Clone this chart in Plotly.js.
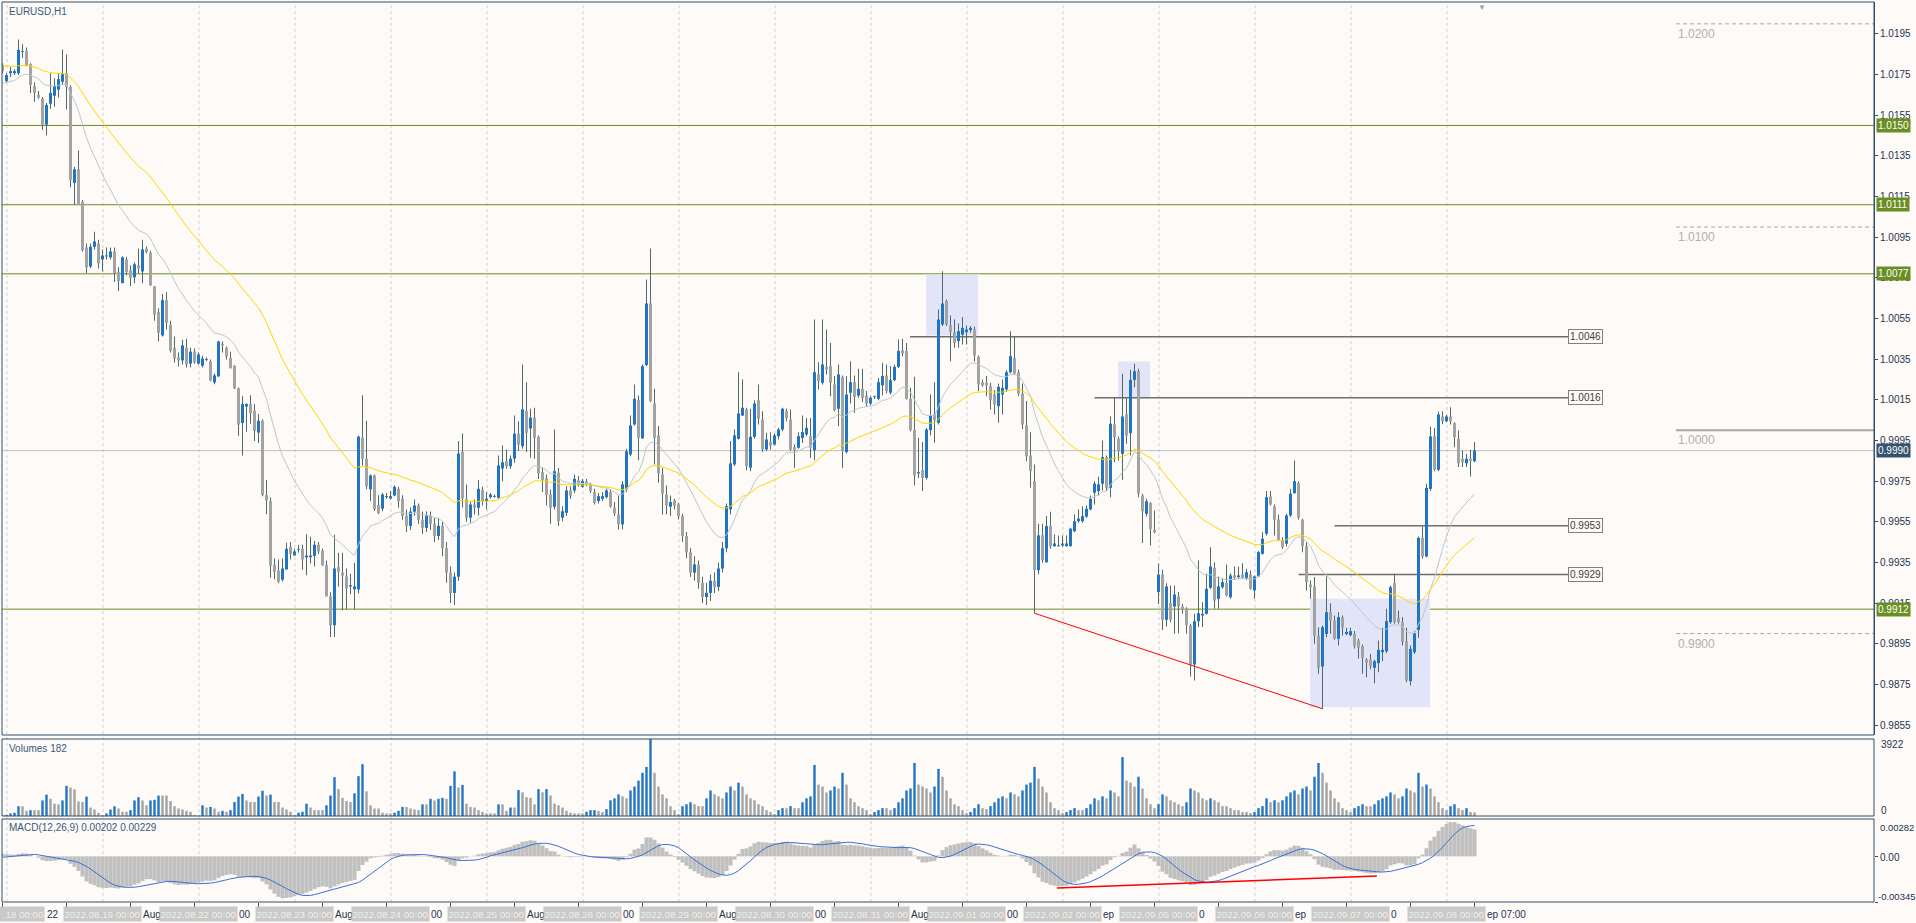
<!DOCTYPE html>
<html><head><meta charset="utf-8">
<script src="https://cdn.plot.ly/plotly-3.0.1.min.js"></script>
<style>html,body{margin:0;padding:0;background:#fdfaf8;overflow:hidden}#chart{width:1916px;height:923px}</style>
</head><body><div id="chart"></div>
<script>
// ---------- DATA (EURUSD H1, bar index 0 = 2022.08.18 00:00) ----------
const FIRST_BAR = -1;
const OPEN = [
1.01796,1.01718,1.01757,1.01757,1.01757,1.01861,1.01865,1.01802,1.01693,1.01650,
1.01631,1.01504,1.01607,1.01646,1.01676,1.01715,1.01757,1.01689,1.01217,1.01284,
1.01124,1.00899,1.00806,1.00903,1.00919,1.00841,1.00856,1.00851,1.00880,1.00779,
1.00724,1.00841,1.00788,1.00753,1.00812,1.00782,1.00894,1.00874,1.00708,1.00582,
1.00467,1.00640,1.00519,1.00406,1.00359,1.00344,1.00406,1.00328,1.00387,1.00328,
1.00318,1.00346,1.00340,1.00236,1.00266,1.00426,1.00406,1.00357,1.00318,1.00207,
1.00036,1.00117,1.00129,1.00096,0.99989,1.00047,0.99681,0.99651,0.99339,0.99310,
0.99265,0.99316,0.99427,0.99384,0.99413,0.99417,0.99375,0.99376,0.99382,0.99437,
0.99408,0.99337,0.99183,0.99041,0.99326,0.99300,0.99281,0.99232,0.99218,0.99217,
0.99963,0.99860,0.99710,0.99778,0.99632,0.99614,0.99671,0.99665,0.99679,0.99712,
0.99663,0.99580,0.99530,0.99600,0.99630,0.99560,0.99520,0.99580,0.99540,0.99480,
0.99530,0.99420,0.99300,0.99200,0.99280,0.99894,0.99660,0.99570,0.99635,0.99619,
0.99706,0.99652,0.99671,0.99673,0.99668,0.99812,0.99848,0.99824,0.99861,0.99984,
0.99922,1.00094,1.00009,1.00062,0.99968,0.99794,0.99763,0.99684,0.99624,0.99791,
0.99570,0.99594,0.99704,0.99704,0.99753,0.99722,0.99750,0.99734,0.99696,0.99652,
0.99663,0.99671,0.99696,0.99619,0.99586,0.99537,0.99709,0.99881,1.00029,1.00148,
0.99960,1.00321,1.00624,1.00132,0.99975,0.99783,0.99684,0.99624,0.99655,0.99635,
0.99578,0.99480,0.99400,0.99300,0.99340,0.99250,0.99180,0.99200,0.99260,0.99230,
0.99320,0.99420,0.99611,0.99832,0.99958,1.00073,1.00103,0.99816,0.99968,1.00148,
1.00053,0.99906,0.99942,0.99930,0.99971,1.00004,1.00094,1.00053,0.99917,0.99914,
0.99963,0.99980,0.99971,0.99902,1.00275,1.00234,1.00312,1.00316,1.00226,1.00106,
1.00263,0.99893,1.00185,1.00237,1.00171,1.00204,1.00171,1.00132,1.00163,1.00155,
1.00221,1.00270,1.00185,1.00247,1.00312,1.00394,1.00390,1.00155,1.00001,0.99788,
0.99804,0.99766,1.00001,1.00078,1.00037,1.00521,1.00636,1.00517,1.00483,1.00439,
1.00471,1.00483,1.00493,1.00496,1.00362,1.00237,1.00234,1.00217,1.00176,1.00119,
1.00176,1.00201,1.00286,1.00355,1.00286,1.00181,1.00024,0.99876,0.99750,0.99312,
0.99483,0.99351,0.99529,0.99430,0.99430,0.99434,0.99430,0.99430,0.99504,0.99553,
0.99553,0.99575,0.99611,0.99693,0.99701,0.99737,0.99868,0.99717,1.00029,0.99958,
0.99884,1.00078,0.99986,1.00248,1.00291,0.99679,0.99589,0.99642,0.99510,0.99204,
0.99291,0.99068,0.99150,0.99133,0.99182,0.99133,0.99122,0.99040,0.98848,0.99061,
0.99089,0.99097,0.99225,0.99323,0.99171,0.99228,0.99248,0.99179,0.99286,0.99278,
0.99291,0.99274,0.99291,0.99212,0.99281,0.99392,0.99491,0.99674,0.99625,0.99560,
0.99461,0.99442,0.99581,0.99691,0.99740,0.99560,0.99430,0.99241,0.99232,0.98990,
0.98838,0.98998,0.99105,0.99064,0.98974,0.99081,0.98998,0.98992,0.98998,0.98966,
0.98938,0.98872,0.98872,0.98831,0.98854,0.98908,0.98913,0.99056,0.99248,0.99077,
0.99056,0.98962,0.98766,0.98908,0.99018,0.99471,0.99379,0.99712,0.99970,0.99806,
1.00068,1.00045,1.00068,1.00035,0.99958,0.99860,0.99838,0.99860,0.99848];
const HIGH = [
1.01806,1.01757,1.01787,1.01777,1.01923,1.01900,1.01884,1.01806,1.01713,1.01670,
1.01640,1.01611,1.01757,1.01732,1.01757,1.01874,1.01849,1.01699,1.01295,1.01377,
1.01133,1.00919,1.00919,1.00977,1.00938,1.00890,1.00899,1.00899,1.00899,1.00802,
1.00856,1.00854,1.00812,1.00827,1.00894,1.00938,1.00905,1.00884,1.00710,1.00601,
1.00671,1.00679,1.00539,1.00461,1.00383,1.00445,1.00451,1.00406,1.00402,1.00383,
1.00367,1.00359,1.00348,1.00279,1.00441,1.00437,1.00412,1.00387,1.00320,1.00211,
1.00168,1.00133,1.00172,1.00129,1.00080,1.00055,0.99755,0.99671,0.99369,0.99365,
0.99369,0.99447,0.99451,0.99417,0.99437,0.99437,0.99489,0.99476,0.99456,0.99451,
0.99417,0.99359,0.99203,0.99486,0.99398,0.99398,0.99320,0.99294,0.99349,0.99973,
1.00172,1.00047,0.99782,0.99782,0.99681,0.99692,0.99692,0.99701,0.99729,0.99722,
0.99680,0.99610,0.99620,0.99660,0.99640,0.99600,0.99600,0.99600,0.99570,0.99570,
0.99550,0.99450,0.99330,0.99300,0.99947,0.99984,0.99734,0.99650,0.99660,0.99755,
0.99722,0.99696,0.99692,0.99684,0.99876,0.99925,0.99906,0.99876,1.00073,1.00045,
1.00324,1.00237,1.00106,1.00111,0.99975,0.99815,0.99783,0.99709,1.00004,0.99815,
0.99627,0.99725,0.99725,0.99783,0.99775,0.99761,0.99761,0.99742,0.99712,0.99692,
0.99696,0.99712,0.99709,0.99647,0.99679,0.99750,0.99909,1.00073,1.00226,1.00171,
1.00324,1.00742,1.00895,1.00204,1.00021,0.99815,0.99729,0.99679,0.99663,0.99643,
0.99590,0.99500,0.99420,0.99380,0.99360,0.99280,0.99250,0.99290,0.99300,0.99350,
0.99450,0.99640,0.99947,1.00004,1.00286,1.00250,1.00111,1.00106,1.00148,1.00226,
1.00094,0.99988,0.99991,0.99984,1.00012,1.00111,1.00106,1.00103,0.99930,0.99991,
1.00073,1.00061,1.00061,1.00545,1.00335,1.00545,1.00496,1.00430,1.00267,1.00324,
1.00270,1.00267,1.00340,1.00270,1.00303,1.00303,1.00193,1.00168,1.00171,1.00258,
1.00332,1.00324,1.00316,1.00324,1.00447,1.00450,1.00430,1.00209,1.00263,0.99963,
0.99942,1.00012,1.00176,1.00237,1.00595,1.00783,1.00644,1.00565,1.00545,1.00526,
1.00558,1.00516,1.00513,1.00509,1.00368,1.00250,1.00267,1.00234,1.00198,1.00230,
1.00250,1.00296,1.00488,1.00463,1.00299,1.00230,1.00144,0.99991,0.99832,0.99540,
0.99540,0.99578,0.99599,0.99488,0.99483,0.99483,0.99483,0.99521,0.99586,0.99611,
0.99627,0.99630,0.99679,0.99750,0.99771,0.99950,0.99876,1.00068,1.00160,0.99970,
1.00278,1.00160,1.00298,1.00327,1.00303,0.99688,0.99663,0.99646,0.99605,0.99343,
0.99314,0.99248,0.99237,0.99237,0.99204,0.99146,0.99130,0.99048,0.99097,0.99360,
0.99154,0.99294,0.99425,0.99351,0.99281,0.99269,0.99340,0.99297,0.99330,0.99330,
0.99346,0.99319,0.99310,0.99286,0.99406,0.99499,0.99701,0.99701,0.99635,0.99586,
0.99474,0.99589,0.99712,0.99852,0.99750,0.99565,0.99450,0.99261,0.99278,0.99031,
0.99040,0.99281,0.99149,0.99089,0.99105,0.99089,0.99028,0.99028,0.99012,0.98976,
0.98946,0.98880,0.98900,0.98871,0.98966,0.99028,0.99122,0.99237,0.99294,0.99113,
0.99081,0.99028,0.98941,0.99012,0.99478,0.99527,0.99737,1.00019,1.00012,1.00093,
1.00094,1.00075,1.00114,1.00040,0.99999,0.99901,0.99884,0.99904,0.99942];
const LOW = [
1.01757,1.01709,1.01738,1.01748,1.01748,1.01832,1.01791,1.01660,1.01617,1.01631,
1.01479,1.01451,1.01582,1.01592,1.01638,1.01699,1.01578,1.01196,1.01108,1.01108,
1.00880,1.00773,1.00798,1.00890,1.00796,1.00782,1.00841,1.00841,1.00730,1.00685,
1.00724,1.00763,1.00710,1.00724,1.00773,1.00724,1.00870,1.00710,1.00539,1.00437,
1.00461,1.00496,1.00383,1.00334,1.00314,1.00324,1.00309,1.00309,1.00328,1.00324,
1.00309,1.00340,1.00242,1.00227,1.00262,1.00383,1.00348,1.00305,1.00203,0.99973,
0.99876,0.99993,1.00032,0.99948,0.99938,0.99675,0.99587,0.99275,0.99267,0.99248,
0.99256,0.99314,0.99365,0.99384,0.99398,0.99314,0.99287,0.99345,0.99330,0.99392,
0.99335,0.99183,0.98983,0.98983,0.99232,0.99115,0.99119,0.99193,0.99119,0.99197,
0.99827,0.99710,0.99651,0.99603,0.99587,0.99602,0.99663,0.99660,0.99676,0.99619,
0.99560,0.99500,0.99510,0.99580,0.99540,0.99490,0.99500,0.99510,0.99450,0.99460,
0.99380,0.99250,0.99150,0.99140,0.99260,0.99620,0.99550,0.99545,0.99586,0.99581,
0.99630,0.99611,0.99663,0.99668,0.99663,0.99750,0.99811,0.99811,0.99840,0.99898,
0.99909,0.99893,0.99865,0.99860,0.99761,0.99696,0.99630,0.99540,0.99611,0.99529,
0.99553,0.99578,0.99663,0.99692,0.99722,0.99717,0.99725,0.99692,0.99635,0.99640,
0.99652,0.99665,0.99619,0.99578,0.99512,0.99512,0.99696,0.99873,1.00024,0.99853,
0.99958,1.00316,1.00139,0.99832,0.99742,0.99586,0.99586,0.99578,0.99611,0.99561,
0.99450,0.99370,0.99280,0.99260,0.99220,0.99150,0.99140,0.99160,0.99200,0.99210,
0.99300,0.99400,0.99586,0.99824,0.99955,1.00070,0.99804,0.99799,0.99958,1.00029,
0.99893,0.99898,0.99906,0.99925,0.99955,0.99996,1.00045,0.99898,0.99816,0.99909,
0.99938,0.99971,0.99865,0.99853,1.00201,1.00226,1.00275,1.00168,1.00094,1.00020,
0.99816,0.99886,1.00132,1.00086,1.00160,1.00139,1.00119,1.00122,1.00155,1.00148,
1.00171,1.00181,1.00176,1.00242,1.00307,1.00365,1.00152,0.99996,0.99729,0.99766,
0.99701,0.99758,0.99975,0.99939,1.00029,1.00513,1.00513,1.00340,1.00406,1.00406,
1.00422,1.00422,1.00480,1.00340,1.00193,1.00214,1.00168,1.00103,1.00078,1.00037,
1.00078,1.00188,1.00280,1.00275,1.00168,1.00007,0.99848,0.99717,0.99100,0.99290,
0.99348,0.99348,0.99417,0.99427,0.99427,0.99427,0.99427,0.99427,0.99499,0.99545,
0.99545,0.99570,0.99607,0.99635,0.99679,0.99704,0.99701,0.99671,0.99843,0.99852,
0.99756,0.99934,0.99876,1.00212,0.99671,0.99445,0.99576,0.99433,0.99494,0.99146,
0.99018,0.99035,0.99056,0.98999,0.99002,0.99097,0.98999,0.98789,0.98769,0.99032,
0.99032,0.99094,0.99220,0.99122,0.99122,0.99220,0.99182,0.99171,0.99264,0.99269,
0.99269,0.99264,0.99215,0.99171,0.99278,0.99389,0.99483,0.99630,0.99483,0.99458,
0.99417,0.99428,0.99573,0.99688,0.99560,0.99400,0.99212,0.99171,0.98950,0.98802,
0.98630,0.98982,0.98999,0.98969,0.98941,0.98990,0.98992,0.98987,0.98926,0.98877,
0.98802,0.98785,0.98825,0.98756,0.98810,0.98864,0.98903,0.99048,0.99048,0.99048,
0.98941,0.98761,0.98744,0.98900,0.98979,0.99368,0.99376,0.99701,0.99798,0.99798,
1.00030,1.00040,1.00029,0.99917,0.99819,0.99819,0.99819,0.99773,0.99843];
const CLOSE = [
1.01767,1.01748,1.01767,1.01767,1.01872,1.01865,1.01796,1.01699,1.01660,1.01637,
1.01504,1.01601,1.01660,1.01693,1.01728,1.01753,1.01689,1.01231,1.01284,1.01108,
1.00886,1.00802,1.00903,1.00929,1.00821,1.00860,1.00860,1.00880,1.00773,1.00734,
1.00851,1.00779,1.00749,1.00817,1.00796,1.00890,1.00878,1.00714,1.00568,1.00480,
1.00640,1.00529,1.00392,1.00353,1.00344,1.00418,1.00324,1.00387,1.00334,1.00373,
1.00353,1.00350,1.00246,1.00270,1.00437,1.00418,1.00363,1.00305,1.00207,1.00028,
1.00129,1.00129,1.00084,0.99997,1.00047,0.99681,0.99655,0.99334,0.99304,0.99256,
0.99320,0.99417,0.99392,0.99404,0.99417,0.99365,0.99384,0.99384,0.99437,0.99404,
0.99335,0.99183,0.99041,0.99320,0.99304,0.99285,0.99222,0.99238,0.99232,0.99969,
0.99860,0.99724,0.99778,0.99612,0.99593,0.99684,0.99676,0.99676,0.99722,0.99652,
0.99580,0.99530,0.99600,0.99630,0.99560,0.99520,0.99580,0.99540,0.99480,0.99530,
0.99420,0.99300,0.99200,0.99280,0.99886,0.99665,0.99570,0.99635,0.99619,0.99712,
0.99652,0.99663,0.99684,0.99676,0.99827,0.99843,0.99824,0.99860,0.99984,0.99930,
1.00103,0.99988,1.00062,0.99963,0.99788,0.99755,0.99681,0.99619,0.99799,0.99553,
0.99602,0.99704,0.99679,0.99761,0.99729,0.99750,0.99734,0.99701,0.99643,0.99676,
0.99676,0.99704,0.99624,0.99591,0.99537,0.99734,0.99897,1.00024,1.00155,0.99963,
1.00316,1.00624,1.00144,0.99963,0.99788,0.99689,0.99630,0.99647,0.99630,0.99578,
0.99480,0.99400,0.99300,0.99340,0.99250,0.99180,0.99200,0.99260,0.99230,0.99320,
0.99420,0.99627,0.99837,0.99975,1.00083,1.00111,0.99824,0.99968,1.00132,1.00057,
0.99906,0.99955,0.99925,0.99975,1.00004,1.00106,1.00061,0.99906,0.99902,0.99971,
0.99991,1.00012,0.99914,1.00286,1.00242,1.00324,1.00299,1.00234,1.00099,1.00275,
0.99898,1.00176,1.00237,1.00165,1.00204,1.00160,1.00132,1.00160,1.00165,1.00237,
1.00267,1.00193,1.00247,1.00312,1.00390,1.00378,1.00155,1.00001,0.99778,0.99794,
0.99766,1.00004,1.00073,1.00050,1.00545,1.00624,1.00521,1.00483,1.00430,1.00488,
1.00504,1.00496,1.00504,1.00368,1.00226,1.00221,1.00221,1.00148,1.00127,1.00214,
1.00209,1.00286,1.00365,1.00280,1.00181,1.00029,0.99873,0.99799,0.99312,0.99483,
0.99361,0.99529,0.99430,0.99443,0.99434,0.99443,0.99443,0.99516,0.99553,0.99565,
0.99578,0.99614,0.99663,0.99738,0.99734,0.99868,0.99717,1.00032,0.99966,0.99897,
1.00068,0.99975,1.00248,1.00291,0.99688,0.99602,0.99651,0.99515,0.99499,0.99290,
0.99068,0.99232,0.99068,0.99192,0.99133,0.99117,0.99040,0.98848,0.99061,0.99100,
0.99097,0.99220,0.99330,0.99163,0.99232,0.99253,0.99187,0.99286,0.99274,0.99286,
0.99274,0.99302,0.99220,0.99281,0.99401,0.99466,0.99671,0.99635,0.99560,0.99461,
0.99425,0.99581,0.99688,0.99750,0.99570,0.99430,0.99253,0.99228,0.98990,0.98831,
0.99031,0.99105,0.99064,0.98974,0.99081,0.99031,0.99008,0.99012,0.98938,0.98930,
0.98880,0.98856,0.98839,0.98864,0.98920,0.98920,0.99061,0.99228,0.99056,0.99056,
0.98958,0.98769,0.98925,0.99002,0.99471,0.99379,0.99717,0.99970,0.99806,1.00078,
1.00045,1.00068,1.00045,0.99966,0.99838,0.99843,0.99860,0.99848,0.99901];
const VOLUME = [
50,60,130,165,495,495,264,297,297,297,
792,1089,875,627,594,792,1535,1452,1353,743,
710,990,429,330,165,50,132,330,495,380,
215,215,297,792,957,792,545,792,825,1040,
1040,1040,759,495,380,330,264,215,50,20,
545,430,462,380,215,264,215,297,710,990,
1122,792,710,710,990,1287,1040,1089,710,710,
430,330,215,50,165,215,627,430,297,297,
297,545,1040,1980,1370,924,760,710,1155,2030,
2640,1254,545,380,380,165,132,132,165,264,
462,462,380,330,297,594,594,875,792,875,
924,875,1535,2277,1452,1584,627,462,430,297,
215,132,132,132,594,594,264,430,430,1320,
1205,957,924,594,1370,1205,1370,1040,627,545,
430,264,165,132,132,132,215,297,300,250,
200,350,800,900,1100,1000,900,1300,1500,1800,
2200,2500,3922,2200,1500,1100,900,500,300,100,
500,600,700,600,500,500,900,1300,1100,1000,
900,1200,1500,1300,1700,1500,1100,900,800,600,
500,300,200,100,300,400,400,500,400,400,
700,900,1000,2600,1600,1500,1200,1300,1500,1400,
2200,1600,900,700,500,400,300,100,200,300,
400,400,300,400,700,900,1300,1400,2700,1600,
1500,1400,1200,1500,2400,2000,1300,900,600,500,
300,150,200,400,600,400,350,500,700,900,
1000,900,1200,1100,1000,1300,1600,1700,2500,1900,
1500,1200,700,400,300,150,200,300,400,300,
300,400,600,900,800,1000,900,1300,1200,1000,
3000,1800,1700,1500,2000,1400,900,600,400,600,
1100,1000,800,700,600,500,700,1400,1300,1200,
900,800,900,800,700,500,500,400,300,300,
200,200,150,200,400,500,900,700,800,700,
800,1000,1200,1300,1100,1400,1500,1300,2000,2700,
2200,1700,1300,900,700,400,300,200,400,500,
600,500,500,600,800,900,1000,1200,1100,900,
1000,1400,1300,1200,2200,1500,1600,1400,1000,700,
400,300,500,600,400,300,400,200,182];

// indicator start values
const EMA_FAST_START = 1.01707, EMA_SLOW_START = 1.01794;
const MACD_START = 0.0002, SIGNAL_START = -0.0001;

// axis scales / ticks
const PRICE_RANGE = [0.985009, 1.021074];
const PRICE_TICKS = [1.0195,1.0175,1.0155,1.0135,1.0115,1.0095,1.0075,1.0055,1.0035,1.0015,0.9995,0.9975,0.9955,0.9935,0.9915,0.9895,0.9875,0.9855];
const VOL_MAX = 3922;
const MACD_RANGE = [-0.00345, 0.00282];
const TICK_BARS = [-1,15,31,47,63,79,95,111,127,143,159,175,191,207,223,239,255,271,287,303,319,335,351,367];
const BARS_PER_DAY = 24;
const DAY_LABELS = ['.18 00:00','2022.08.19 00:00','2022.08.22 00:00','2022.08.23 00:00','2022.08.24 00:00','2022.08.25 00:00','2022.08.26 00:00','2022.08.29 00:00','2022.08.30 00:00','2022.08.31 00:00','2022.09.01 00:00','2022.09.02 00:00','2022.09.05 00:00','2022.09.06 00:00','2022.09.07 00:00','2022.09.08 00:00'];
// parts of the time-scale labels left visible between the date boxes
const GAP_TEXT = ['22','Aug','00','Aug','00','Aug','00','Aug','00','Aug','00','ep','0','ep','0','ep 07:00'];

// chart objects
const GREEN_LEVELS = [1.0150, 1.0111, 1.0077, 0.9912];
const BID = 0.9990;
const ROUND_DASHED = [1.0200, 1.0100, 0.9900];
const ROUND_SOLID = 1.0000;
const ROUND_FROM = 417.4;
const SEG_LEVELS = [1.0046, 1.0016, 0.9953, 0.9929];
const SEG_FROM = [225.9, 272.0, 332.0, 323.0];
const SEG_TO = 390.4;
const RECT_X0 = [229.9, 277.9, 325.9], RECT_X1 = [242.9, 285.9, 355.9];
const RECT_Y0 = [1.00467, 1.00160, 0.98638], RECT_Y1 = [1.00767, 1.00339, 0.99171];
const TREND_X = [257, 329], TREND_Y = [0.99100, 0.98630];
const MACD_TREND_X = [262.6, 342.6], MACD_TREND_Y = [-0.00239, -0.00149];

// ---------- BUILD ----------
const X = CLOSE.map((_, k) => FIRST_BAR + k);
const BLUE = '#2174c4', GREY = '#a3a3a3', WICK = '#4f6a6a', BG = '#fdfaf8', FRAME = '#33506b';

function ema(src, period, start) {
  const a = 2 / (period + 1); let e = start;
  return src.map((v, k) => (k === 0 ? e : (e = e + a * (v - e))));
}
const emaFast = ema(CLOSE, 20, EMA_FAST_START);
const emaSlow = ema(CLOSE, 50, EMA_SLOW_START);
const e12 = ema(CLOSE, 12, CLOSE[0] + MACD_START);
const e26 = ema(CLOSE, 26, CLOSE[0]);
const macd = e12.map((v, k) => v - e26[k]);
const hist = Array(8).fill(SIGNAL_START).concat(macd);
const signal = macd.map((_, k) => { let s = 0; for (let j = 0; j < 9; j++) s += hist[k + j]; return s / 9; });

const bodyBase = OPEN.map((o, k) => Math.min(o, CLOSE[k]));
const bodyLen = OPEN.map((o, k) => Math.max(Math.abs(CLOSE[k] - o), 0.00004));
const bodyCol = OPEN.map((o, k) => (CLOSE[k] >= o ? BLUE : GREY));
const volCol = VOLUME.map((v, k) => (k > 0 && v > VOLUME[k - 1] ? BLUE : GREY));

const L = 2, R = 1874, T = 2, B = 902;
const fy = py => (B - py) / (B - T);
const fx = px => (px - L) / (R - L);
const DOM_MAIN = [fy(735), 1], DOM_VOL = [fy(816), fy(739)], DOM_MACD = [0, fy(819)];

const traces = [
  {type:'bar', x:X, base:LOW, y:HIGH.map((h,k)=>h-LOW[k]), width:0.25, marker:{color:WICK, line:{width:0}}, yaxis:'y', hoverinfo:'skip'},
  {type:'bar', x:X, base:bodyBase, y:bodyLen, width:0.75, marker:{color:bodyCol, line:{width:0}}, yaxis:'y', hoverinfo:'skip'},
  {type:'scatter', mode:'lines', x:X, y:emaFast, line:{color:'#b7caca', width:1}, yaxis:'y', hoverinfo:'skip'},
  {type:'scatter', mode:'lines', x:X, y:emaSlow, line:{color:'#ffd700', width:1}, yaxis:'y', hoverinfo:'skip'},
  {type:'bar', x:X, y:VOLUME, width:0.6, marker:{color:volCol, line:{width:0}}, yaxis:'y2', hoverinfo:'skip'},
  {type:'bar', x:X, y:macd, width:1.0, marker:{color:'#c0c0c0', line:{width:0}}, yaxis:'y3', hoverinfo:'skip'},
  {type:'scatter', mode:'lines', x:X, y:signal, line:{color:'#3a6fd8', width:1}, yaxis:'y3', hoverinfo:'skip'}
];

const shapes = [];
for (let d = 0; d < DAY_LABELS.length; d++) {
  shapes.push({type:'line', xref:'x', yref:'paper', x0:d*BARS_PER_DAY+0.125, x1:d*BARS_PER_DAY+0.125, y0:0, y1:1, line:{color:'#cfcfcf', width:1, dash:'3px,3px'}, layer:'below'});
}
for (let k = 0; k < RECT_X0.length; k++) {
  shapes.push({type:'rect', xref:'x', yref:'y', x0:RECT_X0[k], x1:RECT_X1[k], y0:RECT_Y0[k], y1:RECT_Y1[k], fillcolor:'#e2e5f7', line:{width:0}, layer:'below'});
}
ROUND_DASHED.forEach(v => shapes.push({type:'line', xref:'x', yref:'y', x0:ROUND_FROM, x1:466.9, y0:v, y1:v, line:{color:'#a9a9a9', width:1, dash:'4px,3px'}, layer:'below'}));
shapes.push({type:'line', xref:'x', yref:'y', x0:ROUND_FROM, x1:466.9, y0:ROUND_SOLID, y1:ROUND_SOLID, line:{color:'#a6a6a6', width:2}, layer:'below'});
shapes.push({type:'line', xref:'paper', yref:'y', x0:0, x1:1, y0:BID, y1:BID, line:{color:'#c0c0c0', width:1}, layer:'below'});
GREEN_LEVELS.forEach(v => shapes.push({type:'line', xref:'paper', yref:'y', x0:0, x1:1, y0:v, y1:v, line:{color:'#6b8e23', width:1}, layer:'below'}));
SEG_LEVELS.forEach((v, k) => shapes.push({type:'line', xref:'x', yref:'y', x0:SEG_FROM[k], x1:SEG_TO, y0:v, y1:v, line:{color:'#6e6e6e', width:1.5}, layer:'below'}));
shapes.push({type:'line', xref:'x', yref:'y', x0:TREND_X[0], x1:TREND_X[1], y0:TREND_Y[0], y1:TREND_Y[1], line:{color:'#ff0000', width:1}});
shapes.push({type:'line', xref:'x', yref:'y3', x0:MACD_TREND_X[0], x1:MACD_TREND_X[1], y0:MACD_TREND_Y[0], y1:MACD_TREND_Y[1], line:{color:'#ff0000', width:1.5}});
[DOM_MAIN, DOM_VOL, DOM_MACD].forEach(dm => shapes.push({type:'rect', xref:'paper', yref:'paper', x0:0, x1:1, y0:dm[0], y1:dm[1], line:{color:FRAME, width:1}, fillcolor:'rgba(0,0,0,0)'}));

const FONT = 'Liberation Sans, Arial, sans-serif';
const ann = [];
// date boxes on the time scale, with the label parts visible between them
DAY_LABELS.forEach((t, d) => {
  const first = d === 0;
  ann.push({xref:'x', yref:'paper', x:d*BARS_PER_DAY, y:0, xanchor:first?'right':'center', xshift:first?38.5:0, yanchor:'top', yshift:-4,
            text:t, showarrow:false, bgcolor:'#c9c9c9', width:first?45:77, height:14, borderpad:0, align:first?'right':'center',
            font:{family:FONT, size:9.7, color:'#eeeeee'}});
  ann.push({xref:'x', yref:'paper', x:d*BARS_PER_DAY, y:0, xanchor:'left', xshift:39, yanchor:'top', yshift:-4,
            text:GAP_TEXT[d], showarrow:false, height:14, borderpad:0, font:{family:FONT, size:10, color:'#1e3450'}});
});
GREEN_LEVELS.forEach(v => ann.push({xref:'paper', yref:'y', x:1, y:v, xanchor:'left', yanchor:'middle', xshift:2, text:v.toFixed(4), showarrow:false, bgcolor:'#6b8e23', borderpad:1, font:{family:FONT, size:10, color:'#ffffff'}}));
ann.push({xref:'paper', yref:'y', x:1, y:BID, xanchor:'left', yanchor:'middle', xshift:2, text:BID.toFixed(4), showarrow:false, bgcolor:'#36536f', borderpad:1, font:{family:FONT, size:10, color:'#ffffff'}});
ROUND_DASHED.concat([ROUND_SOLID]).forEach(v => ann.push({xref:'x', yref:'y', x:ROUND_FROM, y:v, xanchor:'left', yanchor:'top', yshift:-1, text:v.toFixed(4), showarrow:false, font:{family:FONT, size:12, color:'#b0b0b0'}}));
SEG_LEVELS.forEach(v => ann.push({xref:'x', yref:'y', x:SEG_TO, y:v, xanchor:'left', yanchor:'middle', text:v.toFixed(4), showarrow:false, bgcolor:BG, bordercolor:'#808080', borderwidth:1, borderpad:1, font:{family:FONT, size:10, color:'#404040'}}));
ann.push({xref:'paper', yref:'paper', x:fx(7), y:fy(4), xanchor:'left', yanchor:'top', text:'EURUSD,H1', showarrow:false, font:{family:FONT, size:10, color:'#3a5a78'}});
ann.push({xref:'paper', yref:'paper', x:fx(7), y:fy(741), xanchor:'left', yanchor:'top', text:'Volumes 182', showarrow:false, font:{family:FONT, size:10, color:'#3a5a78'}});
ann.push({xref:'paper', yref:'paper', x:fx(7), y:fy(820), xanchor:'left', yanchor:'top', text:'MACD(12,26,9) 0.00202 0.00229', showarrow:false, font:{family:FONT, size:10, color:'#3a5a78'}});
[['3922',744,5],['0',810,5],['0.00282',827,4],['0.00',857,4],['-0.00345',896,2]].forEach(p => ann.push({xref:'paper', yref:'paper', x:1, y:fy(p[1]), xanchor:'left', yanchor:'middle', xshift:p[2], text:p[0], showarrow:false, font:{family:FONT, size:p[0].length>6?9.5:10, color:'#1e3450'}}));
ann.push({xref:'paper', yref:'paper', x:fx(1482), y:1, xanchor:'center', yanchor:'top', yshift:1, text:'▼', showarrow:false, font:{family:FONT, size:8, color:'#a0a0a0'}});

const layout = {
  width:1916, height:923, margin:{l:L, r:1916-R, t:T, b:923-B, pad:0},
  paper_bgcolor:BG, plot_bgcolor:BG, showlegend:false, barmode:'overlay', hovermode:false,
  font:{family:FONT, size:10, color:'#1e3450'},
  xaxis:{range:[-1.125, 466.875], anchor:'y3', showgrid:false, zeroline:false, showline:false,
         tickvals:TICK_BARS, ticks:'outside', ticklen:4, tickcolor:FRAME, showticklabels:false, fixedrange:true},
  yaxis:{domain:DOM_MAIN, range:PRICE_RANGE, side:'right', anchor:'x', showgrid:false, zeroline:false,
         showline:true, linecolor:FRAME, ticks:'outside', ticklen:3, tickcolor:FRAME,
         tickvals:PRICE_TICKS, ticktext:PRICE_TICKS.map(v=>v.toFixed(4)), tickfont:{family:FONT, size:10, color:'#1e3450'}},
  yaxis2:{domain:DOM_VOL, range:[0, VOL_MAX], side:'right', anchor:'x', showgrid:false, zeroline:false, showline:false, showticklabels:false, ticks:''},
  yaxis3:{domain:DOM_MACD, range:MACD_RANGE, side:'right', anchor:'x', showgrid:false, zeroline:false, showline:false, showticklabels:false,
          tickvals:[0, MACD_RANGE[0]], ticks:'outside', ticklen:3, tickcolor:FRAME},
  shapes:shapes, annotations:ann
};
Plotly.newPlot('chart', traces, layout, {staticPlot:true, displayModeBar:false});
</script></body></html>
